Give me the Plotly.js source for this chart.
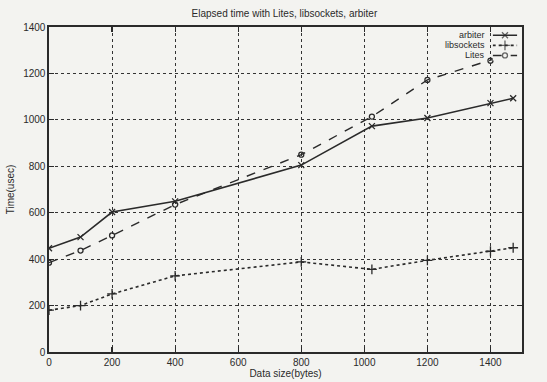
<!DOCTYPE html>
<html>
<head>
<meta charset="utf-8">
<script src="https://cdn.plot.ly/plotly-3.0.1.min.js"></script>
<style>html,body{margin:0;padding:0;background:#f3f3f0;}#chart{width:547px;height:382px;}</style>
</head>
<body>
<div id="chart"></div>
<script>
// Data
const dataSize   = [0, 100, 200, 400, 800, 1024, 1200, 1400, 1472];
const arbiter    = [447, 495, 603, 649, 805, 973, 1008, 1072, 1093];
const libsockets = [180, 200, 250, 328, 388, 356, 395, 434, 449];
const lites      = [385, 437, 502, 635, 850, 1014, 1172, 1255, 1288];
const seriesNames = ['arbiter', 'libsockets', 'Lites'];
const xTicks = [0, 200, 400, 600, 800, 1000, 1200, 1400];
const yTicks = [0, 200, 400, 600, 800, 1000, 1200, 1400];

const ink = '#2a2a2a';
const font = {family: 'Liberation Sans, Arial, sans-serif', size: 10, color: ink};
const legFont = {family: 'Liberation Sans, Arial, sans-serif', size: 9, color: ink};

const styles = [
  {dash: 'solid', width: 1.6, symbol: 'x-thin-open', msize: 6},
  {dash: 'dot', width: 1.6, symbol: 'cross-thin-open', msize: 7},
  {dash: 'dash', width: 1.4, symbol: 'circle-open', msize: 5}
];
const values = [arbiter, libsockets, lites];

const traces = values.map((v, i) => ({
  x: dataSize, y: v, type: 'scatter', mode: 'lines+markers', name: seriesNames[i],
  line: {color: ink, width: styles[i].width, dash: styles[i].dash},
  marker: {symbol: styles[i].symbol, size: styles[i].msize, color: ink, line: {color: ink, width: 1.3}},
  showlegend: false, xaxis: 'x', yaxis: 'y'
}));

// Legend samples (gnuplot style: text left, sample right)
const rows = [3, 2, 1];
values.forEach((v, i) => {
  traces.push({
    x: [0, 0.5, 1], y: [rows[i], rows[i], rows[i]], type: 'scatter', mode: 'lines+markers',
    line: {color: ink, width: styles[i].width, dash: styles[i].dash},
    marker: {symbol: styles[i].symbol, size: [0, styles[i].msize, 0], color: ink, line: {color: ink, width: 1.3}},
    showlegend: false, xaxis: 'x2', yaxis: 'y2', hoverinfo: 'skip'
  });
});

const yDom = [0.897, 0.99];
const annotations = seriesNames.map((n, i) => ({
  text: n, xref: 'paper', yref: 'paper', x: 0.927,
  y: yDom[0] + (rows[i] - 0.5) / 3 * (yDom[1] - yDom[0]),
  xanchor: 'right', yanchor: 'middle', showarrow: false, font: legFont
}));

const axisCommon = {
  showline: true, mirror: 'ticks', linecolor: ink, linewidth: 1.6,
  ticks: 'inside', ticklen: 5, tickcolor: ink, tickwidth: 1.2,
  showgrid: true, gridcolor: '#333', gridwidth: 1, griddash: 'dot',
  zeroline: false, tickfont: font
};

const layout = {
  width: 547, height: 382,
  margin: {l: 49, r: 25, t: 27, b: 30},
  paper_bgcolor: '#f3f3f0', plot_bgcolor: '#f3f3f0',
  title: {text: 'Elapsed time with Lites, libsockets, arbiter', font: {family: font.family, size: 10, color: ink}, x: 0.52, xanchor: 'center', y: 0.965, yanchor: 'middle'},
  xaxis: Object.assign({}, axisCommon, {
    range: [0, 1500], tickvals: xTicks, ticktext: xTicks.map(String),
    title: {text: 'Data size(bytes)', font: font, standoff: 2}
  }),
  yaxis: Object.assign({}, axisCommon, {
    range: [0, 1400], tickvals: yTicks, ticktext: yTicks.map(String),
    title: {text: 'Time(usec)', font: font, standoff: 6}
  }),
  xaxis2: {domain: [0.938, 0.99], anchor: 'y2', range: [0, 1], visible: false},
  yaxis2: {domain: yDom, anchor: 'x2', range: [0.5, 3.5], visible: false},
  annotations: annotations,
  showlegend: false
};

Plotly.newPlot('chart', traces, layout, {staticPlot: true, displayModeBar: false});
</script>
</body>
</html>
